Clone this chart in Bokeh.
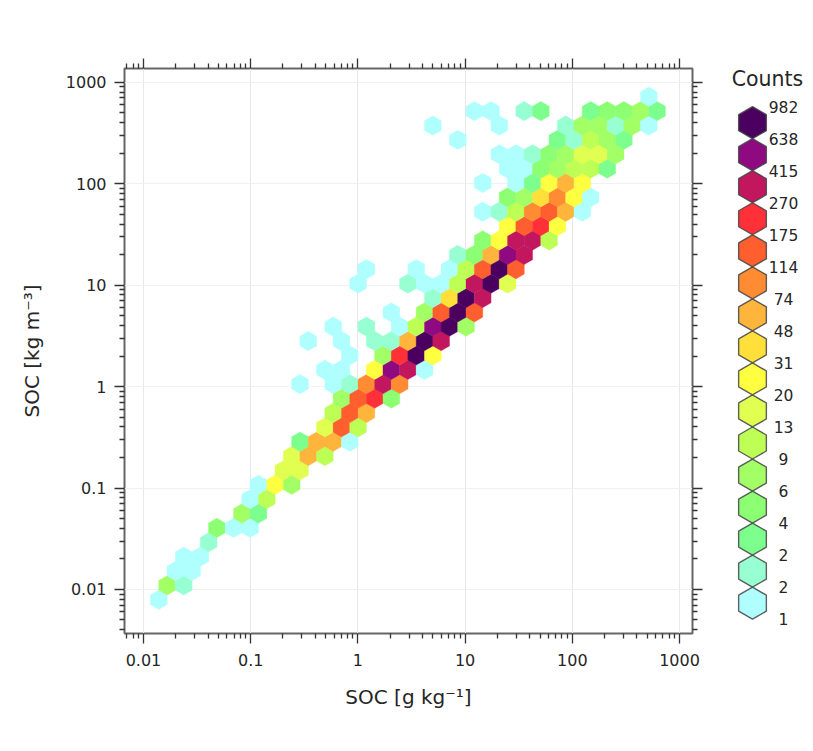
import numpy as np
from bokeh.embed import file_html
from bokeh.layouts import row
from bokeh.models import ColumnDataSource, FixedTicker, LogAxis, Range1d
from bokeh.plotting import figure
from bokeh.resources import INLINE

FONT = "DejaVu Sans"
TEXT = "#262626"

# y of every hexagon row, and how many hexagons each row holds
row_y = [0.00792, 0.01097, 0.0152, 0.02107, 0.0292, 0.04047, 0.05609, 0.07773, 0.1077,
         0.1493, 0.2065, 0.2862, 0.3966, 0.5497, 0.7618, 1.056, 1.463, 2.028, 2.81, 3.895,
         5.39, 7.47, 10.35, 14.35, 19.88, 27.56, 38.19, 52.93, 73.35, 101.7, 140.6, 194.9,
         270.1, 374.3, 518.8, 719.0]
row_len = [1, 2, 2, 2, 1, 3, 2, 2, 3, 2, 3, 4, 3, 3, 4, 6, 6, 5, 7, 7, 5, 4, 8, 7, 5, 5, 4,
           7, 6, 6, 7, 8, 6, 8, 9, 1]

hex_x = [
    0.0139,
    0.01661, 0.02373,
    0.01985, 0.02837,
    0.02373, 0.03391,
    0.04053,
    0.04844, 0.0692, 0.0989,
    0.0827, 0.1182,
    0.0989, 0.1413,
    0.1182, 0.1689, 0.2413,
    0.2018, 0.2884,
    0.2413, 0.3447, 0.4922,
    0.2884, 0.412, 0.5883, 0.8405,
    0.4922, 0.7032, 1.0047,
    0.5883, 0.8405, 1.2009,
    0.7032, 1.0047, 1.435, 2.051,
    0.2884, 0.5883, 0.8405, 1.2009, 1.716, 2.451,
    0.4922, 0.7032, 1.435, 2.051, 2.93, 4.186,
    0.8405, 1.716, 2.451, 3.502, 5.004,
    0.3447, 0.7032, 1.435, 2.051, 2.93, 4.186, 5.981,
    0.5883, 1.2009, 2.451, 3.502, 5.004, 7.149, 10.21,
    2.051, 4.186, 5.981, 8.545, 12.21,
    5.004, 7.149, 10.21, 14.59,
    1.0047, 2.93, 4.186, 5.981, 8.545, 12.21, 17.44, 24.92,
    1.2009, 3.502, 7.149, 10.21, 14.59, 20.85, 29.79,
    8.545, 12.21, 17.44, 24.92, 35.6,
    14.59, 20.85, 29.79, 42.56, 60.8,
    24.92, 35.6, 50.87, 72.67,
    14.59, 20.85, 29.79, 42.56, 60.8, 86.86, 124.1,
    24.92, 35.6, 50.87, 72.67, 103.8, 148.3,
    14.59, 29.79, 42.56, 60.8, 86.86, 124.1,
    24.92, 35.6, 50.87, 72.67, 103.8, 148.3, 211.9,
    20.85, 29.79, 42.56, 60.8, 86.86, 124.1, 177.3, 253.3,
    8.545, 72.67, 103.8, 148.3, 211.9, 302.8,
    5.004, 20.85, 86.86, 124.1, 177.3, 253.3, 361.9, 517.0,
    12.21, 17.44, 35.6, 50.87, 148.3, 211.9, 302.8, 432.6, 618.0,
    517.0,
]
hex_count = [
    1,
    7, 2,
    1, 1,
    1, 1,
    2,
    5, 1, 1,
    7, 3,
    1, 9,
    1, 25, 7,
    16, 16,
    14, 60, 11,
    3, 60, 60, 1,
    16, 145, 9,
    11, 145, 60,
    7, 145, 220, 5,
    1, 1, 2, 92, 340, 92,
    1, 1, 25, 520, 340, 1,
    1, 7, 220, 800, 25,
    1, 1, 2, 2, 60, 800, 340,
    1, 2, 1, 11, 520, 800, 7,
    1, 7, 145, 800, 145,
    2, 39, 800, 340,
    1, 2, 1, 1, 11, 340, 800, 16,
    1, 1, 1, 11, 145, 800, 145,
    2, 5, 60, 520, 340,
    5, 25, 340, 340, 11,
    25, 145, 220, 25,
    1, 2, 11, 92, 145, 60, 1,
    5, 7, 39, 92, 25, 1,
    1, 1, 3, 25, 60, 25,
    1, 1, 5, 7, 9, 9, 3,
    1, 1, 2, 5, 7, 16, 16, 7,
    1, 3, 2, 9, 7, 3,
    1, 1, 2, 7, 7, 2, 7, 1,
    1, 1, 2, 3, 3, 5, 5, 7, 3,
    1,
]

# legend: the 17 class limits and the 16 colours between them, lowest first
class_limits = [1, 1.54, 2.36, 3.63, 5.58, 8.6, 13.2, 20.4, 31, 48, 74, 114, 175, 270, 415, 638, 982]
class_labels = ["1", "2", "2", "4", "6", "9", "13", "20", "31", "48", "74", "114", "175", "270",
                "415", "638", "982"]
class_colors = ["#AFFFFF", "#98FFD2", "#7CFF8C", "#8CFF72", "#A2FF66", "#BEFF56", "#E0FF50",
                "#FFFF42", "#FFE03A", "#FFB43C", "#FF8C32", "#FF5E2E", "#FF3038", "#C2175F",
                "#8F0A80", "#4B0060"]

major_ticks = [0.01, 0.1, 1, 10, 100, 1000]
tick_labels = ["0.01", "0.1", "1", "10", "100", "1000"]
minor_steps = [2, 3, 4, 5, 6, 7, 8, 9]
x_limits = (0.00665, 1322)
y_limits = (0.00368, 1366)

minor_ticks = [d * s for d in [0.001] + major_ticks for s in minor_steps]
labels = dict(zip(major_ticks, tick_labels))

hex_y = np.repeat(row_y, row_len)
levels = np.searchsorted(class_limits, hex_count, side="right") - 1
cells = ColumnDataSource(dict(x=hex_x, y=hex_y, color=[class_colors[i] for i in levels]))

p = figure(width=710, height=743, x_axis_type="log", y_axis_type="log",
           x_range=Range1d(*x_limits), y_range=Range1d(*y_limits),
           min_border_left=124, min_border_right=18, min_border_top=68, min_border_bottom=110,
           output_backend="svg", toolbar_location=None)
p.scatter("x", "y", source=cells, marker="hex", angle=np.pi / 6, size=19.4,
          fill_color="color", line_color="color", line_width=0.3)


def style(axis):
    axis.ticker = FixedTicker(ticks=major_ticks, minor_ticks=minor_ticks)
    axis.axis_line_color = None
    axis.major_tick_line_color = "#333333"
    axis.minor_tick_line_color = "#333333"
    axis.major_tick_line_width = 1.3
    axis.minor_tick_line_width = 1.3
    axis.major_tick_in = 0
    axis.minor_tick_in = 0
    axis.major_tick_out = 10
    axis.minor_tick_out = 5


for ax in (p.xaxis[0], p.yaxis[0]):
    style(ax)
    ax.major_label_overrides = labels
    ax.major_label_text_font = FONT
    ax.major_label_text_font_size = "16px"
    ax.major_label_text_color = TEXT
    ax.axis_label_text_font = FONT
    ax.axis_label_text_font_size = "20px"
    ax.axis_label_text_font_style = "normal"
    ax.axis_label_text_color = TEXT

p.xaxis[0].axis_label = "SOC [g kg⁻¹]"
p.yaxis[0].axis_label = "SOC [kg m⁻³]"
p.xaxis[0].major_label_standoff = 10
p.xaxis[0].axis_label_standoff = 16
p.yaxis[0].major_label_standoff = 8
p.yaxis[0].axis_label_standoff = 19

for side in ("above", "right"):
    extra = LogAxis()
    style(extra)
    extra.major_label_text_font_size = "0px"
    extra.major_label_text_color = None
    p.add_layout(extra, side)

p.xgrid[0].ticker = FixedTicker(ticks=major_ticks)
p.ygrid[0].ticker = FixedTicker(ticks=major_ticks)
p.xgrid[0].grid_line_color = "#e8e8e8"
p.ygrid[0].grid_line_color = "#f1f1f1"
p.xgrid[0].minor_grid_line_color = None
p.ygrid[0].minor_grid_line_color = None
p.outline_line_color = "#666666"
p.outline_line_width = 2

# colour key, one figure to the right (its frame lines up with the main frame)
key = figure(width=95, height=743, x_range=Range1d(-42, 53), y_range=Range1d(-0.946, 16.69),
             min_border_left=0, min_border_right=0, min_border_top=0, min_border_bottom=0,
             output_backend="svg", toolbar_location=None)
key.axis.visible = False
key.grid.visible = False
key.outline_line_color = None
idx = list(range(len(class_colors)))
key.scatter(x=[0] * len(idx), y=idx, marker="hex", angle=np.pi / 6, size=32,
            fill_color=class_colors, line_color="#444444", line_alpha=0.85, line_width=1.4)
key.text(x=[31] * len(class_labels), y=[i - 0.5 for i in range(len(class_labels))], text=class_labels,
         text_align="center", text_baseline="middle", text_font={"value": FONT},
         text_font_size={"value": "15.5px"}, text_color=TEXT)
key.text(x=[15], y=[16.35], text=["Counts"], text_align="center", text_baseline="middle",
         text_font={"value": FONT}, text_font_size={"value": "20.5px"}, text_color=TEXT)

open("out.html", "w").write(file_html(row(p, key), INLINE))
